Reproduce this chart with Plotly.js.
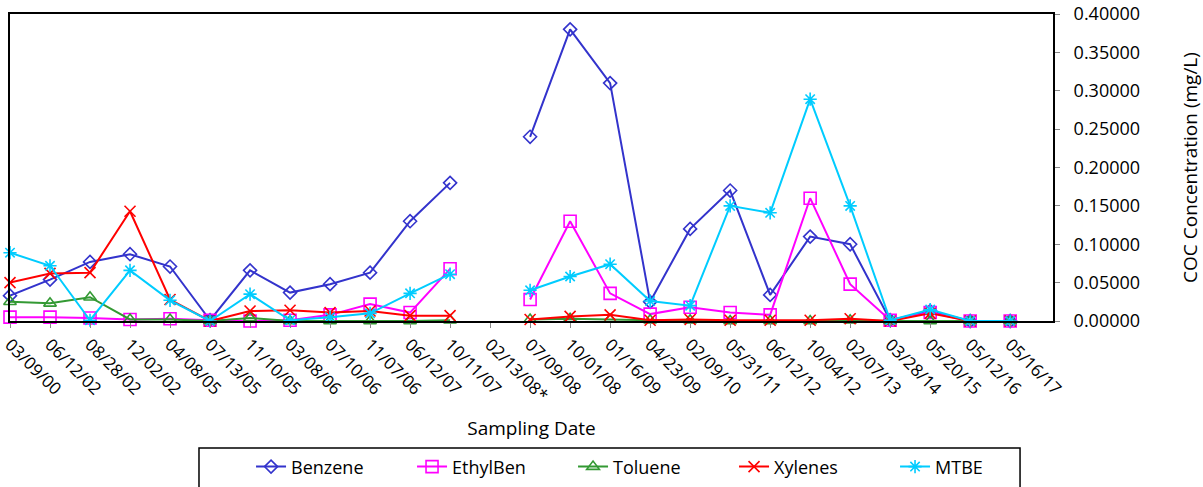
<!DOCTYPE html>
<html>
<head>
<meta charset="utf-8">
<script src="https://cdn.plot.ly/plotly-3.0.1.min.js"></script>
<style>html,body{margin:0;padding:0;background:#fff;}#chart{width:1203px;height:487px;}</style>
</head>
<body>
<div id="chart"></div>
<script>
const dates = ["03/09/00","06/12/02","08/28/02","12/02/02","04/08/05","07/13/05","11/10/05","03/08/06","07/10/06","11/07/06","06/12/07","10/11/07","02/13/08*","07/09/08","10/01/08","01/16/09","04/23/09","02/09/10","05/31/11","06/12/12","10/04/12","02/07/13","03/28/14","05/20/15","05/12/16","05/16/17"];
const benzene  = [0.033,0.054,0.077,0.087,0.071,0.001,0.066,0.037,0.048,0.063,0.130,0.180,null,0.240,0.380,0.310,0.025,0.120,0.170,0.034,0.110,0.100,0.001,0.013,0.000,0.000];
const ethylben = [0.005,0.005,0.004,0.002,0.003,0.001,0.000,0.001,0.008,0.022,0.011,0.068,null,0.028,0.130,0.036,0.009,0.018,0.011,0.008,0.160,0.048,0.001,0.011,0.000,0.000];
const toluene  = [0.025,0.023,0.031,0.002,0.002,0.000,0.004,0.000,0.000,0.000,0.000,0.001,null,0.002,0.003,0.002,0.001,0.001,0.000,0.000,0.000,0.001,0.000,0.000,0.000,0.000];
const xylenes  = [0.050,0.062,0.063,0.143,0.028,0.000,0.013,0.014,0.011,0.013,0.007,0.007,null,0.002,0.006,0.008,0.001,0.002,0.001,0.001,0.001,0.003,0.000,0.010,0.000,0.000];
const mtbe     = [0.089,0.072,0.001,0.066,0.027,0.000,0.035,0.001,0.005,0.010,0.036,0.061,null,0.040,0.058,0.074,0.026,0.020,0.150,0.141,0.289,0.150,0.001,0.015,0.000,0.000];

const seriesNames = ["Benzene","EthylBen","Toluene","Xylenes","MTBE"];
const seriesData = [benzene, ethylben, toluene, xylenes, mtbe];
const colors = ["#3333CC","#FF00FF","#339933","#FF0000","#00CCFF"];
const symbols = ["diamond-open","square-open","triangle-up-open","x-thin-open","asterisk-open"];
const sizes = [10,12,11,11,11];

const traces = seriesNames.map((n,i)=>({
  type:'scatter', mode:'lines+markers', name:n, x:dates, y:seriesData[i],
  line:{color:colors[i], width:2},
  marker:{symbol:symbols[i], size:sizes[i], color:colors[i], line:{color:colors[i], width:1.6}},
  cliponaxis:false, connectgaps:false
}));

const font = "Open Sans, Noto Sans, sans-serif";
const layout = {
  width:1203, height:487,
  margin:{l:10, r:150, t:14, b:166, autoexpand:false},
  paper_bgcolor:'#fff', plot_bgcolor:'#fff',
  font:{family:font, size:16, color:'#000'},
  showlegend:true,
  legend:{orientation:'h', x:0.2311, xanchor:'left', y:-0.415, yanchor:'top',
    borderwidth:0, entrywidth:116, font:{family:font, size:18, color:'#000'}, traceorder:'normal', bgcolor:'rgba(0,0,0,0)'},
  shapes:[{type:'rect', xref:'paper', yref:'paper', x0:0.1812, x1:0.9684, y0:-0.545, y1:-0.4137,
    line:{color:'#000', width:1.5}, fillcolor:'rgba(0,0,0,0)', layer:'below'}],
  xaxis:{type:'category', range:[0, 26.07], showline:true, linecolor:'#000', linewidth:2, mirror:true, automargin:false,
    ticks:'outside', ticklen:5, tickcolor:'#888', tickangle:45, showgrid:false, zeroline:false,
    tickfont:{family:font, size:17, color:'#000'},
    title:{text:'Sampling Date', font:{family:font, size:19, color:'#000'}, standoff:17}},
  yaxis:{side:'right', range:[0,0.4], dtick:0.05, tickformat:'.5f', showline:true, linecolor:'#000', linewidth:2, mirror:true, automargin:false,
    ticks:'outside', ticklen:5, tickcolor:'#888', ticklabelstandoff:10, showgrid:false, zeroline:false,
    tickfont:{family:font, size:18, color:'#000'},
    title:{text:'COC Concentration (mg/L)', font:{family:font, size:19, color:'#000'}, standoff:46}}
};
Plotly.newPlot('chart', traces, layout, {displayModeBar:false, staticPlot:true});
</script>
</body>
</html>
